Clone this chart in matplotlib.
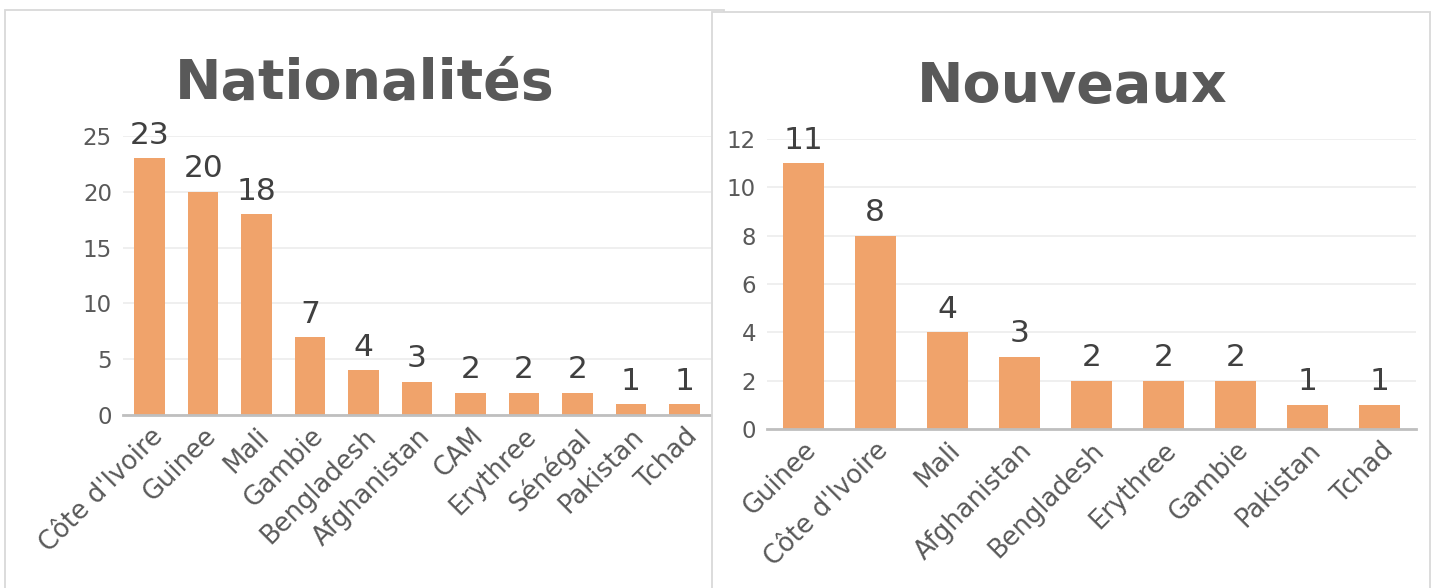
import matplotlib.pyplot as plt
from matplotlib.patches import Rectangle

W, H = 1438, 588

nat_labels = ["Côte d'Ivoire", "Guinee", "Mali", "Gambie", "Bengladesh", "Afghanistan",
              "CAM", "Erythree", "Sénégal", "Pakistan", "Tchad"]
nat_values = [23, 20, 18, 7, 4, 3, 2, 2, 2, 1, 1]

new_labels = ["Guinee", "Côte d'Ivoire", "Mali", "Afghanistan", "Bengladesh",
              "Erythree", "Gambie", "Pakistan", "Tchad"]
new_values = [11, 8, 4, 3, 2, 2, 2, 1, 1]

bar_color = '#F0A36B'
text_gray = '#595959'
label_gray = '#404040'
grid_gray = '#EEEEEE'
axis_gray = '#BFBFBF'
border_gray = '#D9D9D9'

plt.rcParams['font.family'] = ['DejaVu Sans']

fig = plt.figure(figsize=(W / 100, H / 100), dpi=100)


def px_rect(x0, y0, x1, y1):
    # pixel box (top-left origin) -> figure fraction [left, bottom, width, height]
    return [x0 / W, 1 - y1 / H, (x1 - x0) / W, (y1 - y0) / H]


# panel frames (right panel sits on top of the left one)
fig.patches.append(Rectangle((5 / W, -0.05), (724 - 5) / W, 1.05 - 10 / H,
                             transform=fig.transFigure, facecolor='white',
                             edgecolor=border_gray, lw=1.3, zorder=-2))
fig.patches.append(Rectangle((712 / W, -0.05), (1430 - 712) / W, 1.05 - 12 / H,
                             transform=fig.transFigure, facecolor='white',
                             edgecolor=border_gray, lw=1.3, zorder=0))


def draw_panel(box, labels, values, ymax, step, title, title_xy, z):
    ax = fig.add_axes(px_rect(*box))
    ax.set_zorder(z)
    ax.set_facecolor('none')
    x = range(len(values))
    bars = ax.bar(x, values, width=0.57, color=bar_color, zorder=3)
    ax.bar_label(bars, padding=6, fontsize=22.5, color=label_gray)
    ax.set_xlim(-0.5, len(values) - 0.5)
    ax.set_ylim(0, ymax)
    ax.set_yticks(range(0, ymax + 1, step))
    ax.set_xticks(list(x))
    ax.set_xticklabels(labels, rotation=45, ha='right', rotation_mode='anchor')
    ax.tick_params(axis='both', length=0, labelcolor=text_gray)
    ax.tick_params(axis='y', pad=8, labelsize=16.5)
    ax.tick_params(axis='x', pad=6, labelsize=18.5)
    ax.grid(axis='y', color=grid_gray, lw=1.3, zorder=0)
    for s in ['top', 'right', 'left']:
        ax.spines[s].set_visible(False)
    ax.spines['bottom'].set_color(axis_gray)
    ax.spines['bottom'].set_linewidth(2)
    ax.spines['bottom'].set_zorder(4)
    fig.text(title_xy[0] / W, 1 - title_xy[1] / H, title, ha='center', va='baseline',
             fontsize=40, fontweight='bold', color=text_gray, zorder=5)
    return ax


draw_panel((123, 136, 711, 415), nat_labels, nat_values, 25, 5, 'Nationalités', (365, 99), -1)
draw_panel((767, 139, 1416, 429), new_labels, new_values, 12, 2, 'Nouveaux', (1072, 102), 1)

fig.savefig('out.png', dpi=100)
